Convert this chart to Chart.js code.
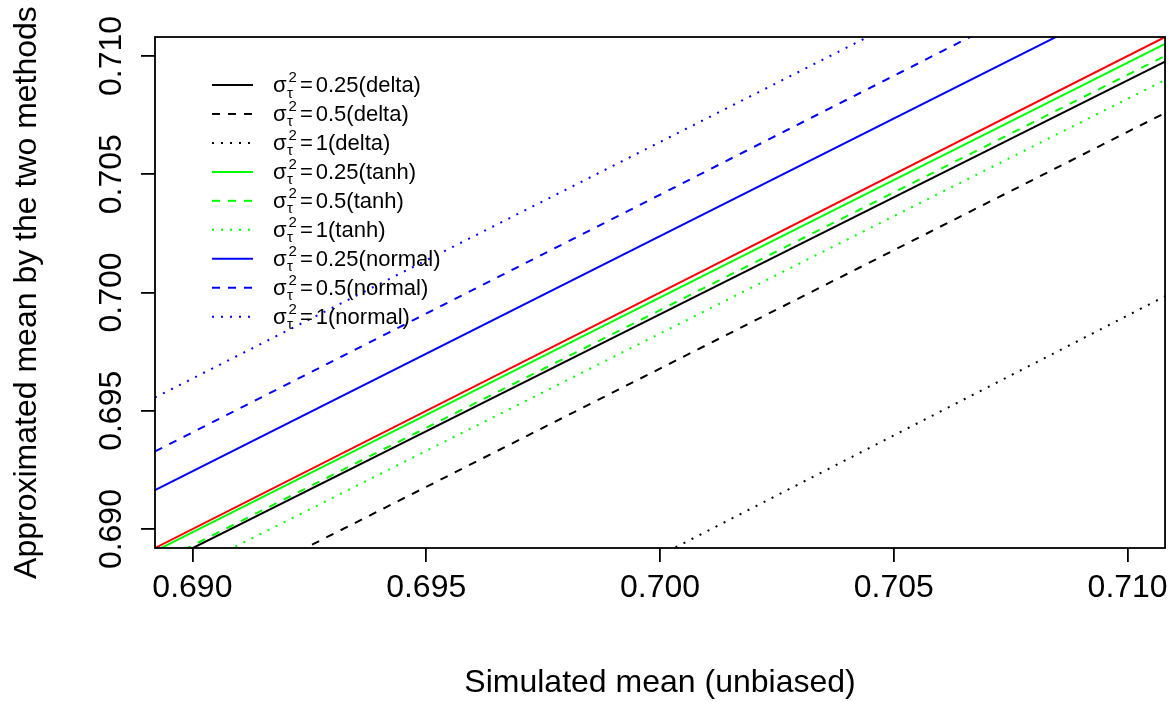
<!DOCTYPE html>
<html><head><meta charset="utf-8">
<script src="https://cdn.jsdelivr.net/npm/chart.js@4.4.1/dist/chart.umd.min.js"></script>
<style>html,body{margin:0;padding:0;background:#fff;}canvas{display:block;}</style>
</head><body>
<canvas id="c" width="1175" height="702"></canvas>
<script>
// ---- data (at the two ends of the x axis) ----
const xEnds = [0.6892, 0.7108];
const identityLine = [0.6892, 0.7108];
const delta025 = [0.68840, 0.70976];
const delta05  = [0.68598, 0.70759];
const delta1   = [0.67794, 0.69984];
const tanh025  = [0.68907, 0.71051];
const tanh05   = [0.68851, 0.71000];
const tanh1    = [0.68755, 0.70898];
const normal025 = [0.69165, 0.71312];
const normal05  = [0.69328, 0.71499];
const normal1   = [0.69556, 0.71716];
const tickValues = [0.690, 0.695, 0.700, 0.705, 0.710];
const sigmaValues = ['0.25', '0.5', '1', '0.25', '0.5', '1', '0.25', '0.5', '1'];
const methodNames = ['delta', 'delta', 'delta', 'tanh', 'tanh', 'tanh', 'normal', 'normal', 'normal'];

const FONT = '"Liberation Sans", Arial, Helvetica, sans-serif';
const DASHED = [8, 8], DOTTED = [2, 7], SOLID = [];

const series = [
  { values: delta025, color: '#000000', dash: SOLID },
  { values: delta05, color: '#000000', dash: DASHED },
  { values: delta1, color: '#000000', dash: DOTTED },
  { values: tanh025, color: '#00FF00', dash: SOLID },
  { values: tanh05, color: '#00FF00', dash: DASHED },
  { values: tanh1, color: '#00FF00', dash: DOTTED },
  { values: normal025, color: '#0000FF', dash: SOLID },
  { values: normal05, color: '#0000FF', dash: DASHED },
  { values: normal1, color: '#0000FF', dash: DOTTED }
];

const toPts = vals => xEnds.map((x, i) => ({ x: x, y: vals[i] }));

const datasets = series.map((s, i) => ({
  label: sigmaValues[i] + '(' + methodNames[i] + ')',
  data: toPts(s.values),
  borderColor: s.color,
  borderDash: s.dash,
  borderWidth: 2,
  pointRadius: 0,
  fill: false,
  tension: 0,
  order: 2
}));
datasets.push({
  label: 'identity',
  data: toPts(identityLine),
  borderColor: '#FF0000',
  borderWidth: 2,
  pointRadius: 0,
  fill: false,
  order: 1
});

const overlay = {
  id: 'overlay',
  afterDraw(chart) {
    const { ctx, chartArea: a, scales } = chart;
    const y = scales.y;
    ctx.save();
    // plot box
    ctx.setLineDash([]);
    ctx.strokeStyle = '#000';
    ctx.lineWidth = 1.8;
    ctx.strokeRect(a.left, a.top, a.right - a.left, a.bottom - a.top);
    // y tick labels (rotated, as in the original)
    ctx.fillStyle = '#000';
    ctx.font = '32px ' + FONT;
    ctx.textAlign = 'center';
    ctx.textBaseline = 'middle';
    tickValues.forEach(v => {
      const py = y.getPixelForValue(v);
      ctx.save();
      ctx.translate(112, py);
      ctx.rotate(-Math.PI / 2);
      ctx.fillText(v.toFixed(3), 0, 0);
      ctx.restore();
    });
    // legend
    const x0 = 212, x1 = 253, tx = 273, row0 = 85, step = 28.96;
    series.forEach((s, i) => {
      const ry = row0 + i * step;
      ctx.strokeStyle = s.color;
      ctx.lineWidth = 2;
      ctx.setLineDash(s.dash);
      ctx.beginPath();
      ctx.moveTo(x0, ry);
      ctx.lineTo(x1, ry);
      ctx.stroke();
      ctx.setLineDash([]);
      ctx.fillStyle = '#000';
      ctx.textAlign = 'left';
      ctx.textBaseline = 'alphabetic';
      ctx.font = '22px ' + FONT;
      ctx.fillText('σ', tx, ry + 7);
      const sw = ctx.measureText('σ').width;
      ctx.font = '15px ' + FONT;
      ctx.fillText('2', tx + sw + 2, ry - 3);
      ctx.fillText('τ', tx + sw + 0.5, ry + 12.5);
      const scw = Math.max(ctx.measureText('2').width + 2, ctx.measureText('τ').width + 0.5);
      ctx.font = '22px ' + FONT;
      const ex = tx + sw + scw + 3;
      ctx.fillText('=', ex, ry + 7);
      const ew = ctx.measureText('=').width;
      ctx.fillText(sigmaValues[i] + '(' + methodNames[i] + ')', ex + ew + 3, ry + 7);
    });
    ctx.restore();
  }
};

new Chart(document.getElementById('c'), {
  type: 'line',
  data: { datasets: datasets },
  plugins: [overlay],
  options: {
    responsive: false,
    animation: false,
    devicePixelRatio: 1,
    events: [],
    layout: { padding: { top: 37, right: 9, left: 0, bottom: 0 } },
    plugins: { legend: { display: false }, tooltip: { enabled: false } },
    scales: {
      x: {
        type: 'linear',
        min: 0.6892,
        max: 0.7108,
        afterBuildTicks: sc => { sc.ticks = tickValues.map(v => ({ value: v })); },
        afterFit: sc => { sc.height = 154; },
        border: { display: false },
        grid: { drawOnChartArea: false, drawTicks: true, tickLength: 14, color: '#000', lineWidth: 1.8 },
        ticks: {
          color: '#000',
          font: { family: FONT, size: 32 },
          padding: 7,
          maxRotation: 0,
          minRotation: 0,
          autoSkip: false,
          callback: v => Number(v).toFixed(3)
        },
        title: {
          display: true,
          text: 'Simulated mean (unbiased)',
          color: '#000',
          font: { family: FONT, size: 32 },
          padding: { top: 0, bottom: 0 }
        }
      },
      y: {
        type: 'linear',
        min: 0.6892,
        max: 0.7108,
        afterBuildTicks: sc => { sc.ticks = tickValues.map(v => ({ value: v })); },
        afterFit: sc => { sc.width = 155; },
        border: { display: false },
        grid: { drawOnChartArea: false, drawTicks: true, tickLength: 14, color: '#000', lineWidth: 1.8 },
        ticks: { display: false },
        title: {
          display: true,
          text: 'Approximated mean by the two methods',
          color: '#000',
          font: { family: FONT, size: 32 },
          padding: { top: 8, bottom: 0 }
        }
      }
    }
  }
});
</script>
</body></html>
